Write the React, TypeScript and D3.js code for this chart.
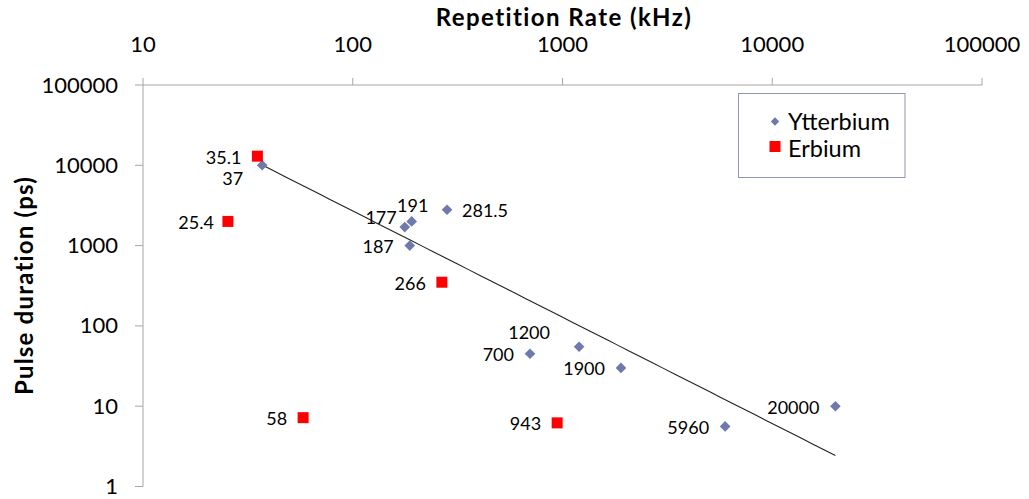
import React from "react";
import * as d3 from "d3";

// ---- data ----
const ybRate = [37, 177, 191, 187, 281.5, 700, 1200, 1900, 5960, 20000];
const ybPulse = [10000, 1700, 2000, 1000, 2800, 45, 55, 30, 5.6, 10];
const ybLabels = ["37", "177", "191", "187", "281.5", "700", "1200", "1900", "5960", "20000"];

const erRate = [35.1, 25.4, 266, 58, 943];
const erPulse = [13000, 2000, 350, 7.2, 6.2];
const erLabels = ["35.1", "25.4", "266", "58", "943"];

const xTicks = [10, 100, 1000, 10000, 100000];
const yTicks = [1, 10, 100, 1000, 10000, 100000];

const seriesNames = ["Ytterbium", "Erbium"];

// label placement tweaks (positions only)
const labelPlace: Record<string, { dx: number; dy: number; anchor: string }> = {
  "37": { dx: -19, dy: 12.5, anchor: "end" },
  "25.4": { dx: -14, dy: 1, anchor: "end" },
  "177": { dx: -8, dy: -10, anchor: "end" },
  "191": { dx: 1, dy: -16, anchor: "middle" },
  "281.5": { dx: 15, dy: 0, anchor: "start" },
  "1200": { dx: -50, dy: -15, anchor: "middle" },
};
const defaultPlace = { dx: -16, dy: 0.5, anchor: "end" };

const W = 1029;
const H = 499;
const FONT = "Lato, 'Noto Sans', sans-serif";
const YB_COLOR = "#6E7AAB";
const ER_COLOR = "#FF0000";
const AXIS_COLOR = "#A6A6A6";

export default function App() {
  const x = d3.scaleLog().domain([10, 100000]).range([143, 982]);
  const y = d3.scaleLog().domain([1, 100000]).range([486.5, 85]);

  // power trendline (least squares in log-log) for Ytterbium
  const lx = ybRate.map((v) => Math.log10(v));
  const ly = ybPulse.map((v) => Math.log10(v));
  const mx = d3.mean(lx)!;
  const my = d3.mean(ly)!;
  const sxy = d3.sum(lx, (v, i) => (v - mx) * (ly[i] - my));
  const sxx = d3.sum(lx, (v) => (v - mx) * (v - mx));
  const b = sxy / sxx;
  const a = my - b * mx;
  const [xmin, xmax] = d3.extent(ybRate) as [number, number];
  const trendPts: [number, number][] = d3
    .range(0, 51)
    .map((i) => xmin * Math.pow(xmax / xmin, i / 50))
    .map((v) => [x(v), y(Math.pow(10, a + b * Math.log10(v)))]);
  const trendPath = d3.line()(trendPts) || "";

  const diamond = d3.symbol().type(d3.symbolDiamond2).size(72)() || "";

  const ybPts = ybRate.map((r, i) => ({ cx: x(r), cy: y(ybPulse[i]), label: ybLabels[i] }));
  const erPts = erRate.map((r, i) => ({ cx: x(r), cy: y(erPulse[i]), label: erLabels[i] }));

  const renderLabel = (p: { cx: number; cy: number; label: string }, key: string) => {
    const pl = labelPlace[p.label] || defaultPlace;
    return (
      <text
        key={key}
        x={p.cx + pl.dx}
        y={p.cy + pl.dy}
        textAnchor={pl.anchor as any}
        dominantBaseline="central"
        fontSize={18}
        fill="#000"
      >
        {p.label}
      </text>
    );
  };

  const sq = 11;

  return (
    <svg
      width={W}
      height={H}
      style={{ position: "absolute", left: 0, top: 0, background: "#fff" }}
      fontFamily={FONT}
    >
      <rect x={0} y={0} width={W} height={H} fill="#fff" />
      {/* axis titles */}
      <text x={564} y={25.5} textAnchor="middle" fontWeight="bold" fontSize={24} letterSpacing={1.4}>
        Repetition Rate (kHz)
      </text>
      <text
        transform={`translate(33, ${285.5}) rotate(-90)`}
        textAnchor="middle"
        fontWeight="bold"
        fontSize={24}
        letterSpacing={1.2}
      >
        Pulse duration (ps)
      </text>

      {/* axes */}
      <line x1={x(10)} x2={x(100000)} y1={y(100000)} y2={y(100000)} stroke={AXIS_COLOR} strokeWidth={1} />
      <line x1={x(10)} x2={x(10)} y1={y(100000)} y2={y(1)} stroke={AXIS_COLOR} strokeWidth={1} />
      {xTicks.map((t) => (
        <g key={"xt" + t}>
          <line x1={x(t)} x2={x(t)} y1={y(100000) - 7} y2={y(100000)} stroke={AXIS_COLOR} />
          <text x={x(t)} y={43} textAnchor="middle" dominantBaseline="central" fontSize={22}>
            {String(t)}
          </text>
        </g>
      ))}
      {yTicks.map((t) => (
        <g key={"yt" + t}>
          <line x1={x(10) - 8} x2={x(10)} y1={y(t)} y2={y(t)} stroke={AXIS_COLOR} />
          <text x={118} y={y(t) - 1} textAnchor="end" dominantBaseline="central" fontSize={22}>
            {String(t)}
          </text>
        </g>
      ))}

      {/* trendline */}
      <path d={trendPath} fill="none" stroke="#222" strokeWidth={1.1} />

      {/* points */}
      {ybPts.map((p, i) => (
        <path key={"yb" + i} d={diamond} transform={`translate(${p.cx},${p.cy})`} fill={YB_COLOR} />
      ))}
      {erPts.map((p, i) => (
        <rect key={"er" + i} x={p.cx - sq / 2} y={p.cy - sq / 2} width={sq} height={sq} fill={ER_COLOR} />
      ))}

      {/* data labels */}
      {ybPts.map((p, i) => renderLabel(p, "ybl" + i))}
      {erPts.map((p, i) => renderLabel(p, "erl" + i))}

      {/* legend */}
      <rect x={738.5} y={93.5} width={166.5} height={84} fill="#fff" stroke="#8E96B8" strokeWidth={1} />
      <path d={d3.symbol().type(d3.symbolDiamond2).size(45)() || ""} transform="translate(775,121.5)" fill={YB_COLOR} />
      <text x={788} y={120.5} dominantBaseline="central" fontSize={23.5}>
        {seriesNames[0]}
      </text>
      <rect x={769.5} y={141} width={11} height={11} fill={ER_COLOR} />
      <text x={788} y={147.5} dominantBaseline="central" fontSize={23.5}>
        {seriesNames[1]}
      </text>
    </svg>
  );
}
